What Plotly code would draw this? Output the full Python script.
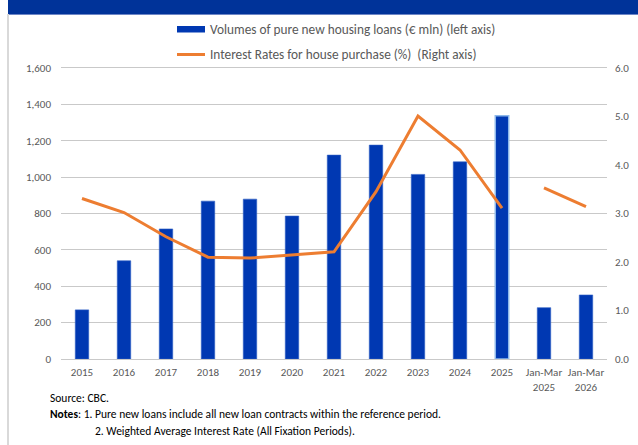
import plotly.graph_objects as go

categories = ["2015", "2016", "2017", "2018", "2019", "2020", "2021", "2022",
              "2023", "2024", "2025", "Jan-Mar<br>2025", "Jan-Mar<br>2026"]
volumes = [270, 540, 715, 868, 879, 786, 1121, 1176, 1015, 1084, 1337, 282, 352]
rates = [3.31, 3.02, 2.52, 2.10, 2.08, 2.15, 2.21, 3.45, 5.01, 4.31, 3.11, 3.53, 3.14]
left_ticks = [0, 200, 400, 600, 800, 1000, 1200, 1400, 1600]
right_ticks = [0, 1, 2, 3, 4, 5, 6]

W, H = 638, 445
L, R, T, B = 61, 607, 68, 359
FONT = "Calibri, Carlito, Lato, sans-serif"
BLUE = "#0038B2"
ORANGE = "#ED7D31"
GRID = "#c9c9c9"


def px(x):
    return (x - L) / (R - L)


def py(y):
    return (B - y) / (B - T)


line_colors = ["#2f5fc4"] * len(volumes)
line_widths = [0.6] * len(volumes)
line_colors[10] = "#8db8ea"
line_widths[10] = 1.5

fig = go.Figure()
fig.add_trace(go.Bar(
    x=categories, y=volumes, name="Volumes of pure new housing loans (€ mln) (left axis)",
    marker=dict(color=BLUE, line=dict(color=line_colors, width=line_widths)),
    showlegend=False, yaxis="y"))
fig.add_trace(go.Scatter(
    x=categories[:11], y=rates[:11], mode="lines", yaxis="y2",
    line=dict(color=ORANGE, width=3), showlegend=False))
fig.add_trace(go.Scatter(
    x=categories[11:], y=rates[11:], mode="lines", yaxis="y2",
    line=dict(color=ORANGE, width=3), showlegend=False))

fig.update_layout(
    width=W, height=H,
    margin=dict(l=L, r=W - R, t=T, b=H - B, pad=0),
    paper_bgcolor="white", plot_bgcolor="white",
    bargap=0.68,
    font=dict(family=FONT, size=11, color="#595959"),
    xaxis=dict(type="category", showgrid=False, zeroline=False,
               showline=True, mirror=True, linecolor=GRID, linewidth=1,
               ticks="", tickfont=dict(size=11, color="#595959"),
               ticklabelstandoff=3, automargin=False),
    yaxis=dict(range=[0, 1600], tickmode="array", tickvals=left_ticks,
               ticktext=[f"{v:,}" for v in left_ticks],
               showgrid=True, gridcolor=GRID, gridwidth=1,
               zeroline=False, showline=False, ticks="",
               tickfont=dict(size=11, color="#595959"),
               ticklabelstandoff=9, automargin=False),
    yaxis2=dict(range=[0, 6], tickmode="array", tickvals=right_ticks,
                ticktext=[f"{v:.1f}" for v in right_ticks],
                overlaying="y", side="right", showgrid=False,
                zeroline=False, showline=False, ticks="",
                tickfont=dict(size=11, color="#595959"),
                ticklabelstandoff=7, automargin=False),
)

shapes = [
    dict(type="rect", xref="paper", yref="paper", x0=px(8), x1=px(640), y0=py(14), y1=py(-2),
         fillcolor="#003399", line=dict(width=0), layer="above"),
    dict(type="line", xref="paper", yref="paper", x0=px(8), x1=px(640), y0=py(14.5), y1=py(14.5),
         line=dict(color="#6d86c6", width=1)),
    dict(type="line", xref="paper", yref="paper", x0=px(8), x1=px(8), y0=py(14), y1=py(447),
         line=dict(color="#d9d9d9", width=2)),
    dict(type="rect", xref="paper", yref="paper", x0=px(177), x1=px(205), y0=py(32.5), y1=py(26),
         fillcolor=BLUE, line=dict(width=0)),
    dict(type="line", xref="paper", yref="paper", x0=px(177), x1=px(205), y0=py(54.5), y1=py(54.5),
         line=dict(color=ORANGE, width=3)),
]
fig.update_layout(shapes=shapes)

ann = [
    dict(text="Volumes of pure new housing loans (€ mln) (left axis)", x=px(208), y=py(29.5),
         size=13.3, color="#595959"),
    dict(text="Interest Rates for house purchase (%)  (Right axis)", x=px(208), y=py(55),
         size=13.3, color="#595959"),
    dict(text="Source: CBC.", x=px(48), y=py(398), size=11.5, color="#000000"),
    dict(text="<b>Notes</b>: 1. Pure new loans include all new loan contracts within the reference period.",
         x=px(48), y=py(414), size=11.5, color="#000000"),
    dict(text="2. Weighted Average Interest Rate (All Fixation Periods).", x=px(93), y=py(431),
         size=11.5, color="#000000"),
]
fig.update_layout(annotations=[
    dict(text=a["text"], x=a["x"], y=a["y"], xref="paper", yref="paper",
         xanchor="left", yanchor="middle", showarrow=False,
         font=dict(family=FONT, size=a["size"], color=a["color"]))
    for a in ann
])

fig.write_html("out.html", config={"displayModeBar": False},
               post_script="document.body.style.margin='0';document.body.style.padding='0';")
